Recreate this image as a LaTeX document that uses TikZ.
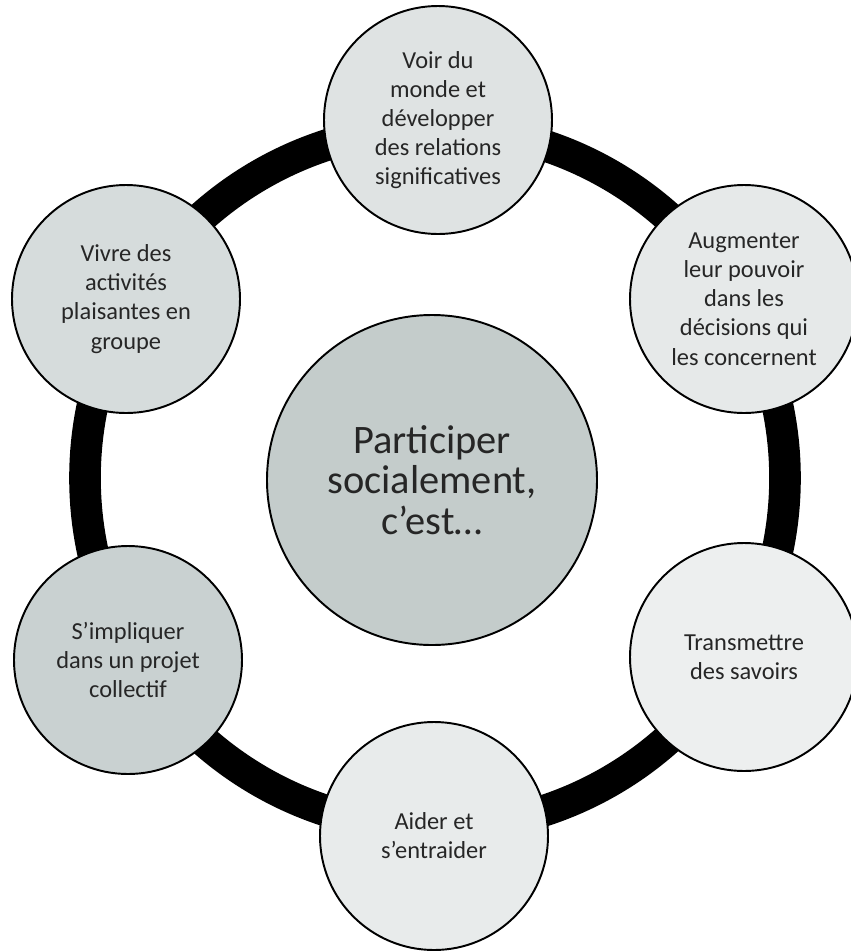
\documentclass[tikz,border=0pt]{standalone}
\usepackage{fontspec}
\setmainfont{Carlito}
\begin{document}
\begin{tikzpicture}[x=0.02cm,y=-0.02cm,
  item/.style={circle,draw=black,line width=1.1pt,minimum size=228*0.02cm,
    inner sep=0pt,align=center,text=black!85,
    font=\fontsize{13.9}{16.6}\selectfont},
  hub/.style={circle,draw=black,line width=1.1pt,minimum size=330*0.02cm,
    inner sep=0pt,align=center,fill=hubfill,text=black!85,
    font=\fontsize{23}{23}\selectfont},
  ring/.style={line width=18pt,black}]
\definecolor{hubfill}{HTML}{C4CCCB}
\definecolor{fillA}{HTML}{DFE3E3}
\definecolor{fillB}{HTML}{E6E9E9}
\definecolor{fillC}{HTML}{EDEFEF}
\definecolor{fillD}{HTML}{E8EBEB}
\definecolor{fillE}{HTML}{C9D1D1}
\definecolor{fillF}{HTML}{D6DCDC}
\useasboundingbox (0,0) rectangle (850,951);
\fill[white] (0,0) rectangle (850,951);

% ring joining the six themes
\coordinate (o) at (435,478);
\draw[ring] (o) circle (350);

% central idea
\node[hub] (centre) at (432,480) {Participer\\socialement,\\c’est…};

% themes around the ring
\node[item,fill=fillA] (voir) at (438,120)
  {Voir du\\monde et\\développer\\des relations\\significatives};
\node[item,fill=fillB] (augmenter) at (744,299)
  {Augmenter\\leur pouvoir\\dans les\\décisions qui\\les concernent};
\node[item,fill=fillC] (transmettre) at (744,657)
  {Transmettre\\des savoirs};
\node[item,fill=fillD] (aider) at (434,836)
  {Aider et\\s’entraider};
\node[item,fill=fillE] (impliquer) at (128,660)
  {S’impliquer\\dans un projet\\collectif};
\node[item,fill=fillF] (vivre) at (126,299)
  {Vivre des\\activités\\plaisantes en\\groupe};
\end{tikzpicture}
\end{document}
